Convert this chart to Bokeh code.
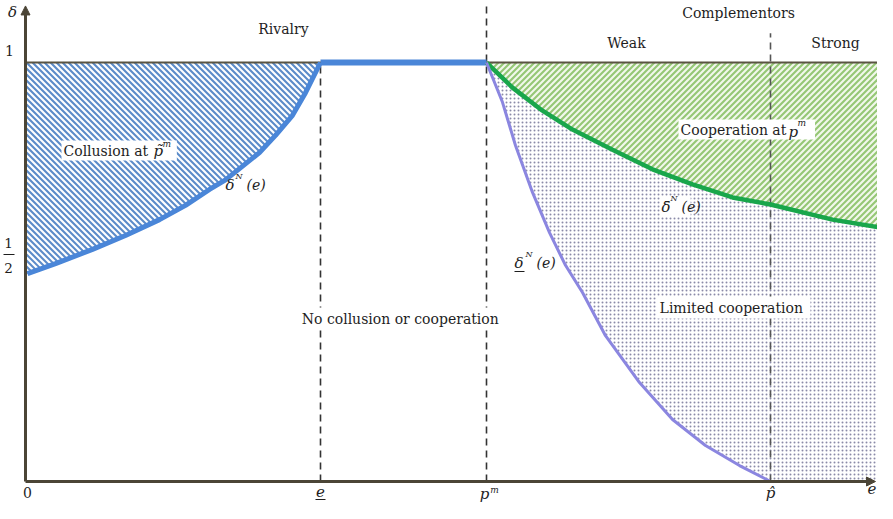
import math
from bokeh.plotting import figure
from bokeh.models import Range1d, Label, Arrow, NormalHead
from bokeh.embed import file_html
from bokeh.resources import INLINE

# ---- data (x: e, y: delta) ----
rivalry_e = [0.02, 0.30, 0.67, 1.00, 1.34, 1.60, 1.84, 2.00, 2.34, 2.50, 2.67, 2.80, 2.95]
rivalry_delta = [0.496, 0.520, 0.554, 0.587, 0.625, 0.659, 0.697, 0.720, 0.785, 0.826, 0.874, 0.928, 1.0]

upper_e = [4.61, 4.87, 5.17, 5.47, 5.87, 6.27, 6.67, 7.07, 7.45, 8.07, 8.60]
upper_delta = [1.0, 0.940, 0.885, 0.840, 0.792, 0.745, 0.709, 0.678, 0.661, 0.625, 0.604]

lower_e = [4.61, 4.77, 4.90, 5.07, 5.24, 5.40, 5.57, 5.80, 6.14, 6.47, 6.80, 7.14, 7.45]
lower_delta = [1.0, 0.905, 0.802, 0.690, 0.594, 0.516, 0.451, 0.348, 0.236, 0.148, 0.086, 0.038, 0.0]

e_low = 2.95     # e underbar
p_m = 4.61       # p^m
p_hat = 7.45     # p hat
e_max = 8.60

region_labels = ["Rivalry", "Complementors", "Weak", "Strong"]
area_labels = ["Collusion at", "No collusion  or cooperation", "Cooperation at", "Limited  cooperation"]

FONT = "DejaVu Serif"
FS = 14
TXT = "#1e1e1e"
AX = "#4b4536"

W, H = 877, 503
XR = (-0.25, 8.52)
YR = (-0.0525, 1.148)
SX = W / (XR[1] - XR[0])   # px per x unit
SY = H / (YR[1] - YR[0])   # px per y unit


def at(px, py):
    return (px - 33) / 100.0, (489 - py) / 419.0


def hatch_segments(xs, ys, direction, step=6.0):
    X = [x * SX for x in xs]
    Y = [y * SY for y in ys]
    n = len(X)
    if direction == "back":
        vals = [X[i] + Y[i] for i in range(n)]
    else:
        vals = [Y[i] - X[i] for i in range(n)]
    c = math.ceil(min(vals) / step) * step
    sx, sy = [], []
    while c <= max(vals):
        pts = []
        for i in range(n):
            j = (i + 1) % n
            a, b = vals[i] - c, vals[j] - c
            if (a < 0) != (b < 0):
                t = a / (a - b)
                pts.append((X[i] + t * (X[j] - X[i]), Y[i] + t * (Y[j] - Y[i])))
        pts.sort()
        for k in range(0, len(pts) - 1, 2):
            sx.append([pts[k][0] / SX, pts[k + 1][0] / SX])
            sy.append([pts[k][1] / SY, pts[k + 1][1] / SY])
        c += step
    return sx, sy


p = figure(width=W, height=H, output_backend="svg", toolbar_location=None,
           x_range=Range1d(*XR), y_range=Range1d(*YR),
           min_border=0, min_border_left=0, min_border_right=0,
           min_border_top=0, min_border_bottom=0)
p.xaxis.visible = False
p.yaxis.visible = False
p.xgrid.visible = False
p.ygrid.visible = False
p.outline_line_color = None
p.background_fill_color = "white"

# ---- hatched regions ----
bx = [0.0] + rivalry_e + [0.0]
by = [rivalry_delta[0]] + rivalry_delta + [1.0]
hx, hy = hatch_segments(bx, by, "back")
p.multi_line(hx, hy, line_color="#5b8bc9", line_width=2.1)

gx = upper_e + [e_max]
gy = upper_delta + [1.0]
p.patch(gx, gy, fill_color="#f2f8ec", line_color=None)
hx, hy = hatch_segments(gx, gy, "fwd")
p.multi_line(hx, hy, line_color="#95c775", line_width=2.1)

dx = lower_e + [e_max] + upper_e[::-1]
dy = lower_delta + [0.0] + upper_delta[::-1]
p.patch(dx, dy, fill_color=None, line_color=None, hatch_pattern=".",
        hatch_color="#8a8aa8", hatch_scale=4, hatch_weight=1)

# ---- top line delta = 1 ----
p.line([0, e_max], [1.0, 1.0], line_color="#5a5442", line_width=2)

# ---- dashed verticals ----
dash = "7 5"
p.line([e_low, e_low], [0, 1.0], line_color="#333333", line_width=1.6, line_dash=dash)
p.line([p_m, p_m], [0, 1.138], line_color="#333333", line_width=1.6, line_dash=dash)
p.line([p_hat, p_hat], [0, 1.07], line_color="#555555", line_width=1.6, line_dash=dash)

# ---- curves ----
p.line(rivalry_e, rivalry_delta, line_color="#4a86d8", line_width=5)
p.line([e_low, p_m], [1.0, 1.0], line_color="#4a86d8", line_width=6)
p.line(upper_e, upper_delta, line_color="#19a64b", line_width=4.5)
p.line(lower_e, lower_delta, line_color="#8b86e0", line_width=3)

# ---- axes ----
p.add_layout(Arrow(end=NormalHead(size=9, fill_color=AX, line_color=AX),
                   x_start=0, y_start=0, x_end=8.50, y_end=0,
                   line_color=AX, line_width=3))
p.add_layout(Arrow(end=NormalHead(size=9, fill_color=AX, line_color=AX),
                   x_start=0, y_start=0, x_end=0, y_end=1.135,
                   line_color=AX, line_width=3))


def lab(px, py, text, size=FS, style="normal", align="left", base="middle", bg=None, pad=0):
    x, y = at(px, py)
    kw = {}
    if bg:
        kw = dict(background_fill_color=bg, padding=pad)
    p.add_layout(Label(x=x, y=y, text=text, text_font=FONT, text_font_size=f"{size}px",
                       text_font_style=style, text_color=TXT, text_align=align,
                       text_baseline=base, **kw))


# axis labels
lab(20, 10, "δ", 15, "italic", "center", "top")
lab(17, 58, "1", align="center")
lab(16, 250, "1", 13.5, align="center")
p.line([-0.22, -0.11], [at(0, 262)[1]] * 2, line_color=TXT, line_width=1)
lab(16, 275, "2", 13.5, align="center")
lab(35, 505, "0", align="center", base="bottom")
lab(328, 504, "e", 15, "italic", "center", "bottom")
p.line([e_low - 0.05, e_low + 0.05], [at(0, 507)[1]] * 2, line_color=TXT, line_width=1)
lab(492, 510, "p", 15, "italic", "center", "bottom")
lab(502, 497, "m", 9, "italic", "center")
lab(778, 509, "p\u0302", 15, "italic", "center", "bottom")
lab(884, 496, "e", 15, "italic", "right")

# region headers
lab(291, 36, region_labels[0], align="center")
lab(746, 20, region_labels[1], align="center")
lab(634, 50, region_labels[2], align="center")
lab(843, 50, region_labels[3], align="center")

# area labels
lab(69, 158, area_labels[0] + "      ", bg="white", pad=2)
lab(161, 158, "p\u0303", 15, "italic")
lab(170, 151, "m", 9, "italic")

lab(410, 326, area_labels[1], align="center", bg="white", pad=3)

lab(686, 137, area_labels[2] + "      ", bg="white", pad=2)
lab(796, 139, "p", 15, "italic")
lab(805, 130, "m", 9, "italic")

lab(741, 315, area_labels[3], align="center", bg="white", pad=3)

# curve labels
lab(233, 192, "δ", 15, "italic")
lab(243, 184, "N", 8, "italic")
lab(254, 192, "(e)", 14, "italic")

lab(668, 214, "δ\u0304    ", 15, "italic", bg="white", pad=1)
lab(678, 206, "N", 8, "italic")
lab(689, 214, "(e)", 14, "italic")

lab(522, 270, "δ", 15, "italic")
p.line([at(522, 0)[0], at(532, 0)[0]], [at(0, 279)[1]] * 2, line_color=TXT, line_width=1)
lab(533, 262, "N", 8, "italic")
lab(544, 270, "(e)", 14, "italic")

open("out.html", "w").write(file_html(p, INLINE))
